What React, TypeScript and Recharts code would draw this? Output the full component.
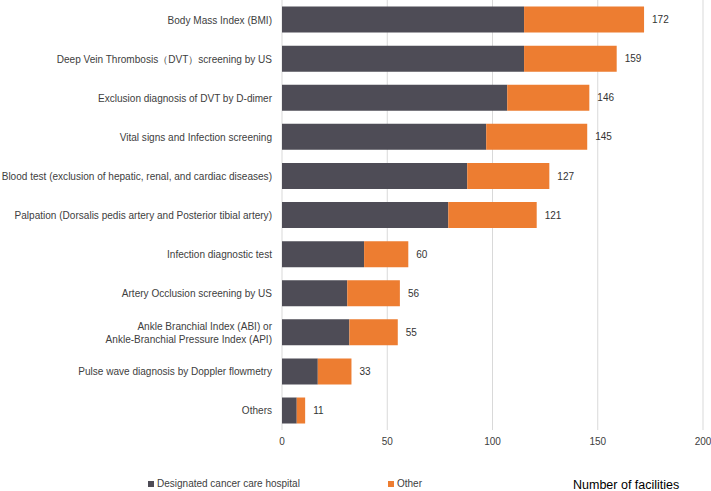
import { Bar, BarChart, CartesianGrid, LabelList, XAxis, YAxis } from "recharts";

const FONT = "'Liberation Sans', Arial, sans-serif";
const DARK = "#4e4c56";
const ORANGE = "#ed7d31";
const TEXT = "#404040";

const items = [
  "Body Mass Index (BMI)",
  "Deep Vein Thrombosis\uff08DVT\uff09screening by US",
  "Exclusion diagnosis of DVT by D-dimer",
  "Vital signs and Infection screening",
  "Blood test (exclusion of hepatic, renal, and cardiac diseases)",
  "Palpation (Dorsalis pedis artery and Posterior tibial artery)",
  "Infection diagnostic test",
  "Artery Occlusion screening by US",
  "Ankle Branchial Index (ABI) or\nAnkle-Branchial Pressure Index (API)",
  "Pulse wave diagnosis by Doppler flowmetry",
  "Others",
];
const totals = [172, 159, 146, 145, 127, 121, 60, 56, 55, 33, 11];
const cancerHospital = [115, 115, 107, 97, 88, 79, 39, 31, 32, 17, 7];
const xTicks = [0, 50, 100, 150, 200];

const rows = items.map((name, i) => ({
  name,
  hospital: cancerHospital[i],
  other: totals[i] - cancerHospital[i],
  total: totals[i],
}));

// category labels, with support for two-line names
function ItemTick(props: any) {
  const { x, y, payload } = props;
  const lines = String(payload.value).split("\n");
  const lh = 13;
  const start = -((lines.length - 1) * lh) / 2;
  return (
    <text x={x - 2} y={y} textAnchor="end" fontSize={10.05} fill={TEXT} fontFamily={FONT}>
      {lines.map((l, i) => (
        <tspan key={i} x={x - 2} dy={i === 0 ? start + 4 : lh}>
          {l}
        </tspan>
      ))}
    </text>
  );
}

export default function App() {
  return (
    <div style={{ position: "absolute", left: 0, top: 0, width: 711, height: 491, background: "#fff", fontFamily: FONT }}>
      <BarChart
        width={711}
        height={491}
        data={rows}
        layout="vertical"
        barCategoryGap={6.6}
        margin={{ top: 0, right: 8, left: 0, bottom: 41 }}
      >
        <CartesianGrid horizontal={false} stroke="#d9d9d9" />
        <XAxis
          type="number"
          domain={[0, 200]}
          ticks={xTicks}
          axisLine={false}
          tickLine={false}
          tick={{ fontSize: 10, fill: TEXT, fontFamily: FONT }}
          height={20}
        />
        <YAxis
          type="category"
          dataKey="name"
          width={282}
          axisLine={false}
          tickLine={false}
          interval={0}
          tick={<ItemTick />}
        />
        <Bar dataKey="hospital" stackId="a" fill={DARK} isAnimationActive={false} />
        <Bar dataKey="other" stackId="a" fill={ORANGE} isAnimationActive={false}>
          <LabelList dataKey="total" position="right" offset={8} fontSize={10} fill="#333" fontFamily={FONT} />
        </Bar>
      </BarChart>
      <div style={{ position: "absolute", left: 148, top: 478, fontSize: 10, color: TEXT, display: "flex", alignItems: "center" }}>
        <span style={{ width: 6, height: 6, background: DARK, marginRight: 3 }} />
        Designated cancer care hospital
      </div>
      <div style={{ position: "absolute", left: 388, top: 478, fontSize: 10, color: TEXT, display: "flex", alignItems: "center" }}>
        <span style={{ width: 6, height: 6, background: ORANGE, marginRight: 3 }} />
        Other
      </div>
      <div style={{ position: "absolute", left: 573, top: 478, fontSize: 12.5, color: "#000" }}>
        Number of facilities
      </div>
    </div>
  );
}
